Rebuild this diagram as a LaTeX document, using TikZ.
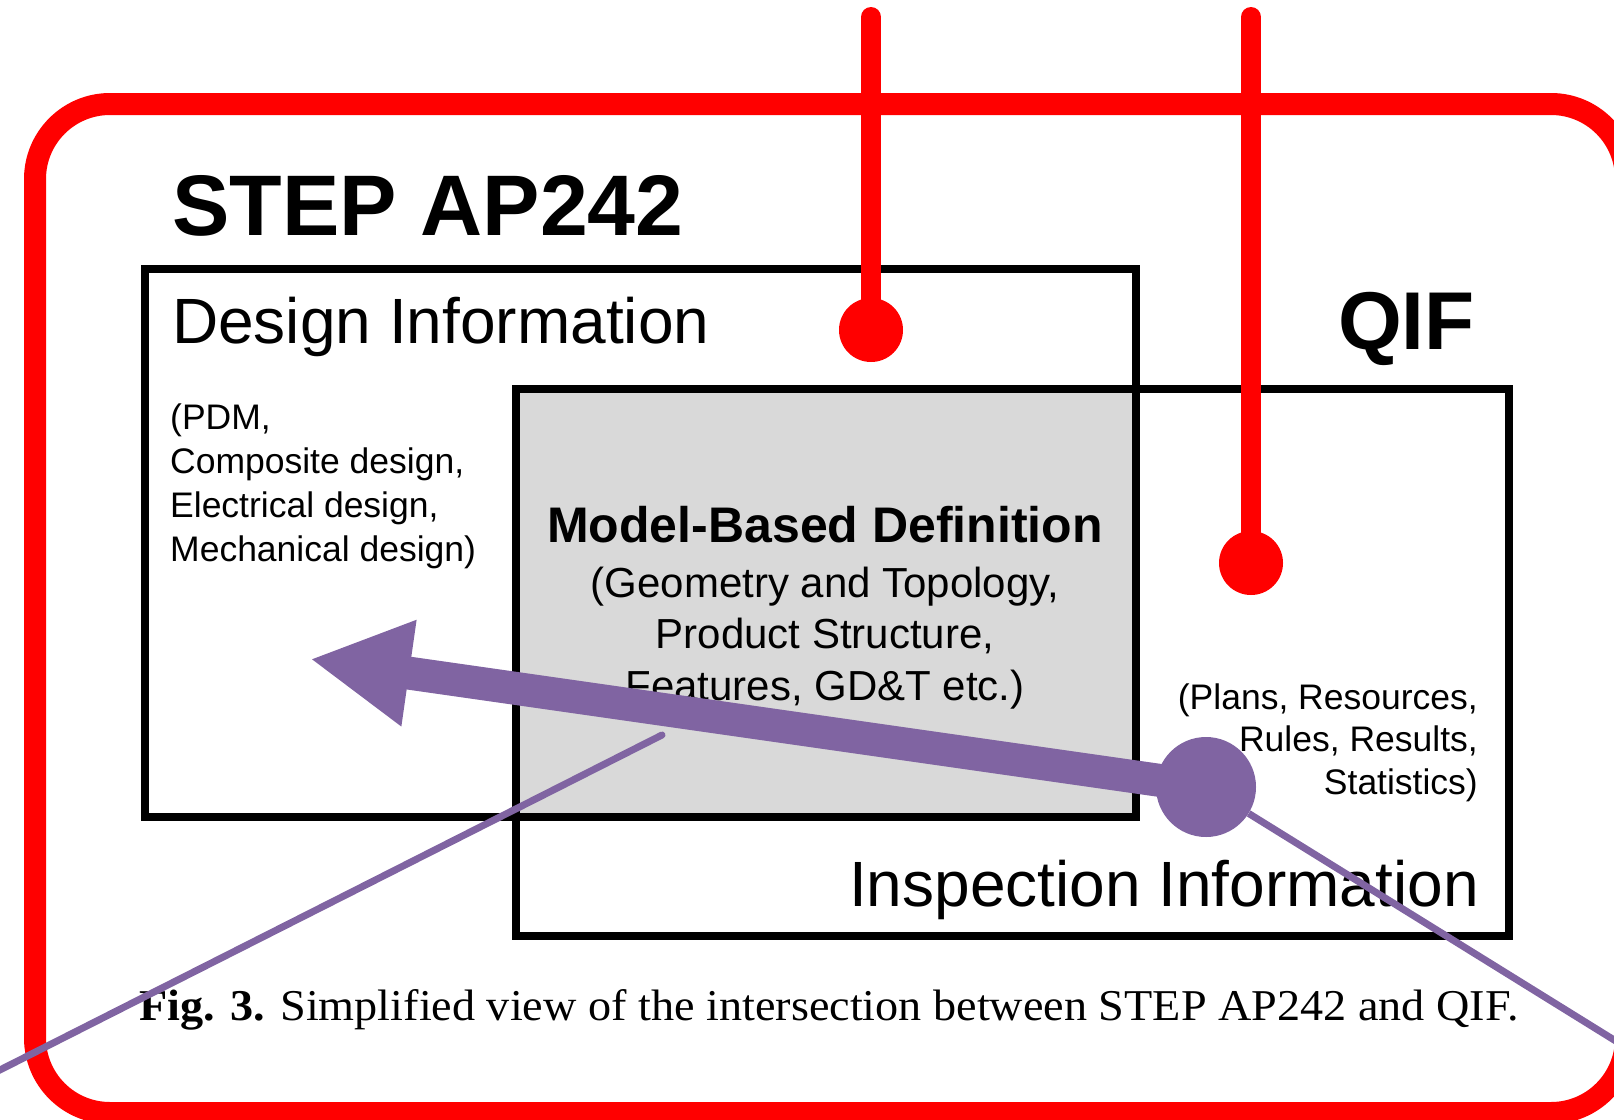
\documentclass[tikz,border=0pt]{standalone}
\usepackage{fontspec}
\setmainfont{Liberation Sans}
\newfontfamily\captionserif[FakeStretch=1.05]{Liberation Serif}
\usepackage{xcolor}
\usepackage{tikz}
\usetikzlibrary{arrows.meta,backgrounds,positioning}
\definecolor{FrameRed}{RGB}{255,0,0}
\definecolor{MarkPurple}{RGB}{128,100,162}
\definecolor{OverlapGrey}{RGB}{217,217,217}

\begin{document}
\begin{tikzpicture}[x=1pt, y=-1pt]
    \useasboundingbox (0,0) rectangle (1614,1119);
    \clip (0,0) rectangle (1614,1119);

    % Domain boxes
    \node[draw, line width=8pt, outer sep=0pt, inner sep=0pt, minimum width=991pt, minimum height=548pt] (design) at (640.5,543) {};
    \node[draw, line width=8pt, outer sep=0pt, inner sep=0pt, minimum width=993pt, minimum height=547pt] (inspection) at (1012.5,662.5) {};
    \begin{scope}[on background layer]
        \fill[OverlapGrey] (inspection.north west) rectangle (design.south east);
    \end{scope}

    % Titles and labels
    \node[anchor=base west, inner sep=0pt, font=\fontsize{86}{100}\selectfont\bfseries] (steptitle) at (172,235) {STEP AP242};
    \node[anchor=base east, inner sep=0pt, font=\fontsize{82}{96}\selectfont\bfseries] (qiftitle) at (1475,349) {QIF};
    \node[anchor=base west, inner sep=0pt, font=\fontsize{64}{76}\selectfont] (designlabel) at (172,343) {Design Information};
    \node[anchor=base east, inner sep=0pt, font=\fontsize{64}{76}\selectfont] (inspectlabel) at (1479,906) {Inspection Information};
    \node[anchor=base west, inner sep=0pt, align=left, font=\fontsize{35.5}{44}\selectfont] (designlist) at (170,561) {(PDM,\\Composite design,\\Electrical design,\\Mechanical design)};
    \node[anchor=base east, inner sep=0pt, align=right, font=\fontsize{35.5}{42.5}\selectfont] (inspectlist) at (1478,794) {(Plans, Resources,\\Rules, Results,\\Statistics)};
    \node[anchor=base, inner sep=0pt, font=\fontsize{50}{60}\selectfont\bfseries] (mbdtitle) at (825,542) {Model-Based Definition};
    \node[anchor=base, inner sep=0pt, align=center, font=\fontsize{42}{51.5}\selectfont] (mbdlist) at (825,700) {(Geometry and Topology,\\Product Structure,\\Features, GD\&T etc.)};
    \node[anchor=base west, inner sep=0pt, font=\captionserif\fontsize{44}{50}\selectfont] (caption) at (139,1020) {\textbf{Fig. 3.} Simplified view of the intersection between STEP AP242 and QIF.};

    % Red frame
    \draw[FrameRed, line width=22pt, rounded corners=75pt] (35,104) rectangle (1626,1113);

    % Red pins
    \coordinate (pinAtop) at (871,17);
    \coordinate (pinBtop) at (1251,17);
    \node[circle, fill=FrameRed, minimum size=64pt, inner sep=0pt] (pinA) at (871,330) {};
    \node[circle, fill=FrameRed, minimum size=64pt, inner sep=0pt] (pinB) at (1251,563) {};
    \draw[FrameRed, line width=20pt, line cap=round] (pinAtop) -- (pinA.center);
    \draw[FrameRed, line width=20pt, line cap=round] (pinBtop) -- (pinB.center);

    % Purple pointer
    \node[circle, fill=MarkPurple, minimum size=100pt, inner sep=0pt] (hub) at (1206,787) {};
    \coordinate (arrowtip) at (310,659);
    \draw[MarkPurple, line width=33pt, -{Triangle[length=100pt, width=100pt]}] (hub.center) -- (arrowtip);
    \coordinate (rightend) at (1640,1056);
    \draw[MarkPurple, line width=7pt] (hub) -- (rightend);
    \coordinate (leftstart) at (662,735);
    \coordinate (leftend) at (-14,1077);
    \draw[MarkPurple, line width=7pt, line cap=round] (leftstart) -- (leftend);
\end{tikzpicture}
\end{document}
